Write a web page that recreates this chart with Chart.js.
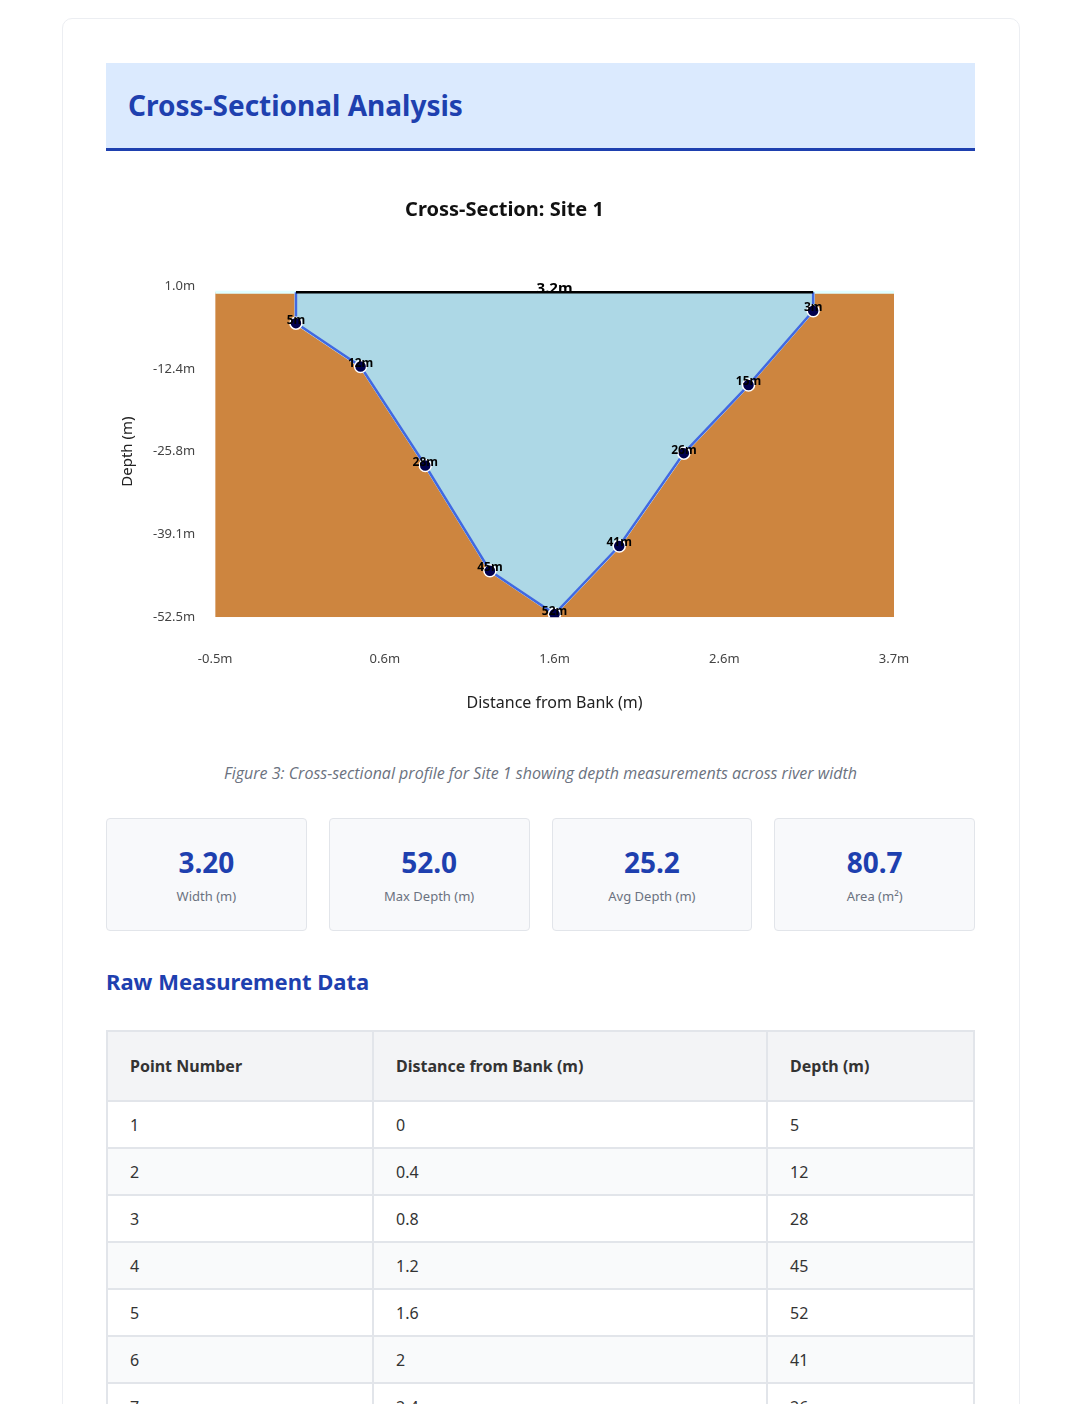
<!DOCTYPE html>
<html>
<head>
<meta charset="utf-8">
<script src="https://cdn.jsdelivr.net/npm/chart.js@4"></script>
<style>
  body { margin: 0; background: #fff; font-family: "Noto Sans", "Open Sans", sans-serif; }
  .card { position: absolute; left: 62px; top: 18px; width: 956px; height: 1400px; border: 1px solid #eceef2; border-radius: 10px; }
  .header { position: absolute; left: 106px; top: 63px; width: 869px; height: 85px; background: #dbeafe; border-bottom: 3px solid #1e40af; }
  .header h1 { margin: 0; padding-left: 22px; line-height: 85px; font-size: 28px; color: #1e40af; font-weight: 700; }
  .chartbox { position: absolute; left: 106px; top: 180px; width: 869px; height: 537px; }
  .caption { position: absolute; left: 106px; top: 762px; width: 869px; text-align: center; font-style: italic; color: #6b7280; font-size: 16px; font-family: "Open Sans", sans-serif; }
  .stats { position: absolute; left: 106px; top: 818px; width: 869px; display: flex; gap: 22px; }
  .stat { flex: 1; height: 111px; background: #f8f9fb; border: 1px solid #e2e5ea; border-radius: 4px; text-align: center; }
  .stat .v { margin-top: 24px; font-size: 28px; font-weight: 700; color: #1e40af; }
  .stat .l { margin-top: 6px; font-size: 13px; color: #6b7280; }
  h2 { position: absolute; left: 106px; top: 966px; margin: 0; font-size: 22px; color: #1e40af; font-weight: 700; }
  table { position: absolute; left: 106px; top: 1030px; width: 869px; border-collapse: collapse; font-size: 16px; color: #333; }
  th { background: #f3f4f6; text-align: left; font-weight: 700; height: 68px; padding: 0 22px; border: 2px solid #e2e5ea; }
  td { height: 45px; padding: 0 22px; border: 2px solid #e2e5ea; }
  tr:nth-child(even) td { background: #f9fafb; }
</style>
</head>
<body>
<div class="card"></div>
<div class="header"><h1>Cross-Sectional Analysis</h1></div>
<div class="chartbox"><canvas id="myChart"></canvas></div>
<div class="caption">Figure 3: Cross-sectional profile for Site 1 showing depth measurements across river width</div>
<div class="stats">
  <div class="stat"><div class="v">3.20</div><div class="l">Width (m)</div></div>
  <div class="stat"><div class="v">52.0</div><div class="l">Max Depth (m)</div></div>
  <div class="stat"><div class="v">25.2</div><div class="l">Avg Depth (m)</div></div>
  <div class="stat"><div class="v">80.7</div><div class="l">Area (m²)</div></div>
</div>
<h2>Raw Measurement Data</h2>
<table id="tbl"><thead><tr><th style="width:220px">Point Number</th><th style="width:348px">Distance from Bank (m)</th><th>Depth (m)</th></tr></thead><tbody></tbody></table>
<script>
const distances = [0, 0.4, 0.8, 1.2, 1.6, 2, 2.4, 2.8, 3.2];
const depths = [5, 12, 28, 45, 52, 41, 26, 15, 3];
const bankLeft = -0.5;
const bankRight = 3.7;

const tbody = document.querySelector('#tbl tbody');
distances.forEach((d, i) => {
    const tr = document.createElement('tr');
    tr.innerHTML = '<td>' + (i + 1) + '</td><td>' + d + '</td><td>' + depths[i] + '</td>';
    tbody.appendChild(tr);
});

const profile = distances.map((d, i) => ({ x: d, y: -depths[i] }));
const width = distances[distances.length - 1] - distances[0];

const ground = [{ x: bankLeft, y: 0 }, { x: 0, y: 0 }, ...profile,
    { x: width, y: 0 }, { x: bankRight, y: 0 }];
const water = [{ x: 0, y: 0 }, ...profile, { x: width, y: 0 }];
const surface = [{ x: 0, y: 0 }, { x: width, y: 0 }];

Chart.defaults.font.family = '"Noto Sans", sans-serif';

const labelPlugin = {
    id: 'labels',
    afterDatasetsDraw(chart) {
        const ctx = chart.ctx;
        const xs = chart.scales.x, ys = chart.scales.y;
        ctx.save();
        ctx.fillStyle = '#000';
        ctx.textAlign = 'center';
        ctx.textBaseline = 'middle';
        ctx.font = 'bold 12px "Noto Sans"';
        profile.forEach((p, i) => {
            ctx.fillText(depths[i] + 'm', xs.getPixelForValue(p.x), ys.getPixelForValue(p.y) - 3);
        });
        ctx.font = 'bold 15px "Noto Sans"';
        ctx.textBaseline = 'bottom';
        ctx.fillText(width.toFixed(1) + 'm', xs.getPixelForValue(width / 2), ys.getPixelForValue(0) + 4);
        ctx.restore();
    }
};

new Chart(document.getElementById('myChart'), {
    type: 'scatter',
    data: {
        datasets: [
            { data: surface, showLine: true, borderColor: '#000', borderWidth: 2.5, pointRadius: 0, order: 1 },
            { data: profile, showLine: false, pointRadius: 6, pointBackgroundColor: '#00004d', pointBorderColor: '#fff', pointBorderWidth: 1.5, order: 2 },
            { data: water, showLine: true, borderColor: '#4169e1', borderWidth: 2.5, backgroundColor: '#add8e6', fill: 'origin', pointRadius: 0, order: 3 },
            { data: ground, showLine: true, borderColor: '#e0ffff', borderWidth: 3, backgroundColor: '#cd853f', fill: 'start', pointRadius: 0, order: 4 }
        ]
    },
    options: {
        responsive: true,
        maintainAspectRatio: false,
        animation: false,
        layout: { padding: { left: 9, right: 81, top: 0, bottom: 0 } },
        plugins: {
            legend: { display: false },
            tooltip: { enabled: false },
            title: { display: true, text: 'Cross-Section: Site 1', color: '#111', font: { size: 20, weight: 'bold' }, padding: { top: 18, bottom: 64 } }
        },
        scales: {
            x: {
                type: 'linear', min: bankLeft, max: bankRight,
                grid: { display: false }, border: { display: false },
                ticks: { count: 5, color: '#444', font: { size: 13 }, padding: 26, callback: v => v.toFixed(1) + 'm' },
                title: { display: true, text: 'Distance from Bank (m)', color: '#222', font: { size: 16 }, padding: { top: 1 } }
            },
            y: {
                min: -52.5, max: 1,
                grid: { display: false }, border: { display: false },
                ticks: { count: 5, color: '#444', font: { size: 13 }, padding: 12, callback: v => v.toFixed(1) + 'm' },
                title: { display: true, text: 'Depth (m)', color: '#222', font: { size: 15 } }
            }
        }
    },
    plugins: [labelPlugin]
});
</script>
</body>
</html>
